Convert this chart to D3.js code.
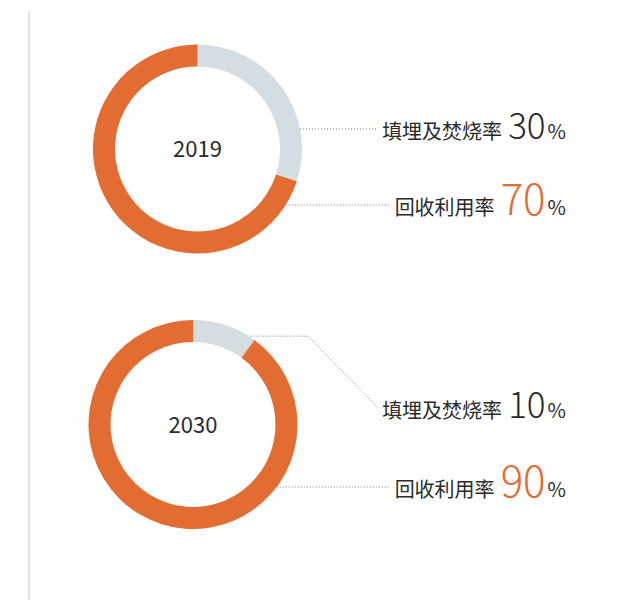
<!DOCTYPE html>
<html>
<head>
<meta charset="utf-8">
<script src="https://cdn.jsdelivr.net/npm/d3@7"></script>
<style>
  body { margin: 0; background: #fff; }
  svg { display: block; }
</style>
</head>
<body>
<div id="container"></div>
<script>
/* CONSTANTS AND GLOBALS */
const width = 627,
  height = 600,
  outerR = 104.5,
  innerR = 82.5,
  textRight = 566;

// data
const years = ["2019", "2030"]
const categories = ["填埋及焚烧率", "回收利用率"]
const landfillRate = [30, 10]
const recycleRate = [70, 90]

// layout per donut: center + label baselines
const layout = [
  { cx: 197.5, cy: 149, rows: [139, 215] },
  { cx: 193, cy: 424.5, rows: [418, 497] }
]

const colorScale = d3.scaleOrdinal()
  .domain(categories)
  .range(["#d4dde1", "#e36c33"])

const numColor = d3.scaleOrdinal()
  .domain(categories)
  .range(["#2a2a2a", "#e36c33"])

// orange figures are drawn larger
const numSize = d3.scaleOrdinal()
  .domain(categories)
  .range([35, 42])

const pie = d3.pie()
  .sort(null)
  .value(d => d.value)

const arc = d3.arc()
  .innerRadius(innerR)
  .outerRadius(outerR)

const svg = d3.select("#container")
  .append("svg")
  .attr("width", width)
  .attr("height", height)

// left rule
svg.append("line")
  .attr("x1", 29).attr("x2", 29)
  .attr("y1", 11).attr("y2", height)
  .attr("stroke", "#dcdcdc")
  .attr("stroke-width", 1.6)

years.forEach((year, i) => {
  const data = [
    { key: categories[0], value: landfillRate[i] },
    { key: categories[1], value: recycleRate[i] }
  ]
  const L = layout[i]
  const g = svg.append("g")
    .attr("transform", `translate(${L.cx},${L.cy})`)

  const arcs = pie(data)

  g.selectAll("path")
    .data(arcs)
    .join("path")
    .attr("d", arc)
    .attr("fill", d => colorScale(d.data.key))

  g.append("text")
    .attr("text-anchor", "middle")
    .attr("y", 8)
    .attr("font-family", "'Noto Sans CJK SC', 'Noto Sans', sans-serif")
    .attr("font-size", 22)
    .attr("fill", "#2a2a2a")
    .text(year)

  arcs.forEach((a, j) => {
    const baseY = L.rows[j]
    const t = svg.append("text")
      .attr("x", textRight)
      .attr("y", baseY)
      .attr("text-anchor", "end")
      .attr("font-family", "'Noto Sans CJK SC', sans-serif")
      .attr("fill", "#2a2a2a")
    t.append("tspan")
      .attr("font-size", 20)
      .text(a.data.key)
    t.append("tspan")
      .attr("dx", 6)
      .attr("font-size", numSize(a.data.key))
      .attr("font-weight", 300)
      .attr("fill", numColor(a.data.key))
      .text(a.data.value)
    t.append("tspan")
      .attr("dx", 2)
      .attr("font-size", 20)
      .text("%")

    const textStart = t.node().getBBox().x
    const lineY = baseY - 10
    const dy = lineY - L.cy
    // angle (from top, clockwise) where the label's height meets the ring
    const theta = Math.acos(-dy / outerR)
    let pts
    if (theta >= a.startAngle && theta <= a.endAngle) {
      pts = [[L.cx + Math.sin(theta) * outerR, lineY], [textStart - 4, lineY]]
    } else {
      const ang = a.endAngle - 0.05
      const sx = L.cx + Math.sin(ang) * (outerR + 1)
      const sy = L.cy - Math.cos(ang) * (outerR + 1)
      pts = [[sx, sy], [L.cx + 115, sy], [textStart - 4, lineY]]
    }
    svg.append("path")
      .attr("d", d3.line()(pts))
      .attr("fill", "none")
      .attr("stroke", "#777")
      .attr("stroke-width", 1)
      .attr("stroke-dasharray", "1,2")
  })
})
</script>
</body>
</html>
